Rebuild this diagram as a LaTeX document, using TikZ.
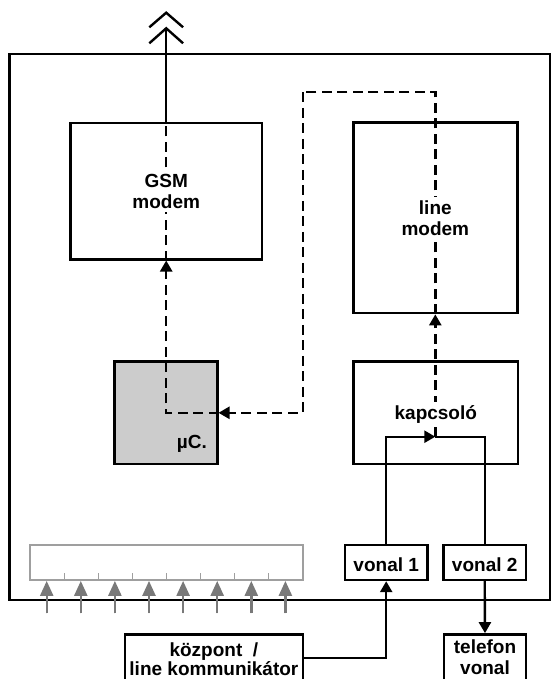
\documentclass[tikz,border=0pt]{standalone}
\usepackage{fontspec}
\setmainfont{Liberation Sans}
\usetikzlibrary{arrows.meta}
\begin{document}
\begin{tikzpicture}[x=1pt,y=-1pt,line width=2.4pt,
  box/.style={draw,line width=2.4pt,inner sep=0pt},
  lbl/.style={font=\fontsize{19}{20.8}\selectfont\bfseries,align=center,inner sep=1pt},
  lblw/.style={lbl,fill=white,inner sep=4pt},
  dsh/.style={dash pattern=on 10pt off 5.5pt},
  tip/.style={-{Triangle[length=11pt,width=12pt]}},
  gtip/.style={-{Triangle[length=15pt,width=13pt]},draw=gray!95!black,line width=2.4pt,fill=gray!95!black},
  busbox/.style={draw=gray!75,line width=1.8pt,inner sep=0pt},
]
\clip (0,0) rectangle (551,679);
% outer frame
\draw (9.3,54.3) rectangle (550,600);
% boxes
\node[box,minimum width=191.5pt,minimum height=136pt] (gsm) at (166.2,191.3) {};
\node[box,minimum width=164pt,minimum height=190.7pt] (lm) at (435.3,217.8) {};
\node[box,fill=gray!40,minimum width=103pt,minimum height=102.3pt] (uc) at (165.8,412.8) {};
\node[box,minimum width=164.4pt,minimum height=102.3pt] (ks) at (435.5,412.8) {};
\node[box,minimum width=82.3pt,minimum height=35pt] (v1) at (386.2,562.5) {};
\node[box,minimum width=82.7pt,minimum height=35pt] (v2) at (484.7,562.5) {};
\node[box,minimum width=177.7pt,minimum height=65.7pt] (kp) at (213.9,667.2) {};
\node[box,minimum width=82pt,minimum height=65.7pt] (tel) at (485,667.2) {};
\node[busbox,minimum width=273.3pt,minimum height=35pt] (bus) at (166.7,562.5) {};
% bus ticks
\foreach \i in {0,...,6}{
  \coordinate (t\i) at ({64.3+34*\i},573);
  \draw[draw=gray!75,line width=1.5pt] (t\i) -- (t\i |- bus.south);
}
% gray input arrows
\foreach \i in {0,...,7}{
  \coordinate (g\i) at ({46.7+34.1*\i},613.3);
  \draw[gtip] (g\i) -- (g\i |- bus.south);
}
% antenna
\coordinate (ant) at (166.2,28.3);
\draw (gsm.north) -- (ant);
\draw[line join=miter] (149.3,27.3) -- (166.2,12.7) -- (183.1,27.3);
\draw[line join=miter] (149.3,43.3) -- (ant) -- (183.1,43.3);
% dashed signal paths
\coordinate (kj) at (435.3,436.7);
\coordinate (loopR) at (435.3,92.3);
\coordinate (loopL) at (302.7,92.3);
\draw[dsh,tip] (kj) -- (lm.south);
\draw[dsh] (lm.south) -- (loopR) -- (loopL);
\draw[dsh,tip] (loopL) |- (uc.east);
\draw[dsh,tip] (uc.east) -| (gsm.south);
\draw[dsh] (gsm.south) -- (gsm.north);
% solid line paths
\draw[tip] (v1.north) |- (kj);
\draw (kj) -| (v2.north);
\draw[tip] (v2.south) -- (tel.north);
\draw[tip] ([yshift=9.5pt]kp.east) -| (v1.south);
% labels
\node[lblw] at (166.2,191.2) {GSM\\modem};
\node[lblw] at (435.3,218.3) {line\\modem};
\node[lblw,inner sep=3pt,anchor=base] at (435.8,419) {kapcsoló};
\node[lbl,anchor=base east] at (209,448) {µC.};
\node[lbl,anchor=base] at (386.2,571.5) {vonal 1};
\node[lbl,anchor=base] at (484.7,571.5) {vonal 2};
\node[lbl,anchor=base] at (213.9,656) {központ~ /};
\node[lbl,anchor=base] at (213.9,675.7) {line kommunikátor};
\node[lbl,anchor=base] at (485,653.3) {telefon};
\node[lbl,anchor=base] at (485,674) {vonal};
\end{tikzpicture}
\end{document}
